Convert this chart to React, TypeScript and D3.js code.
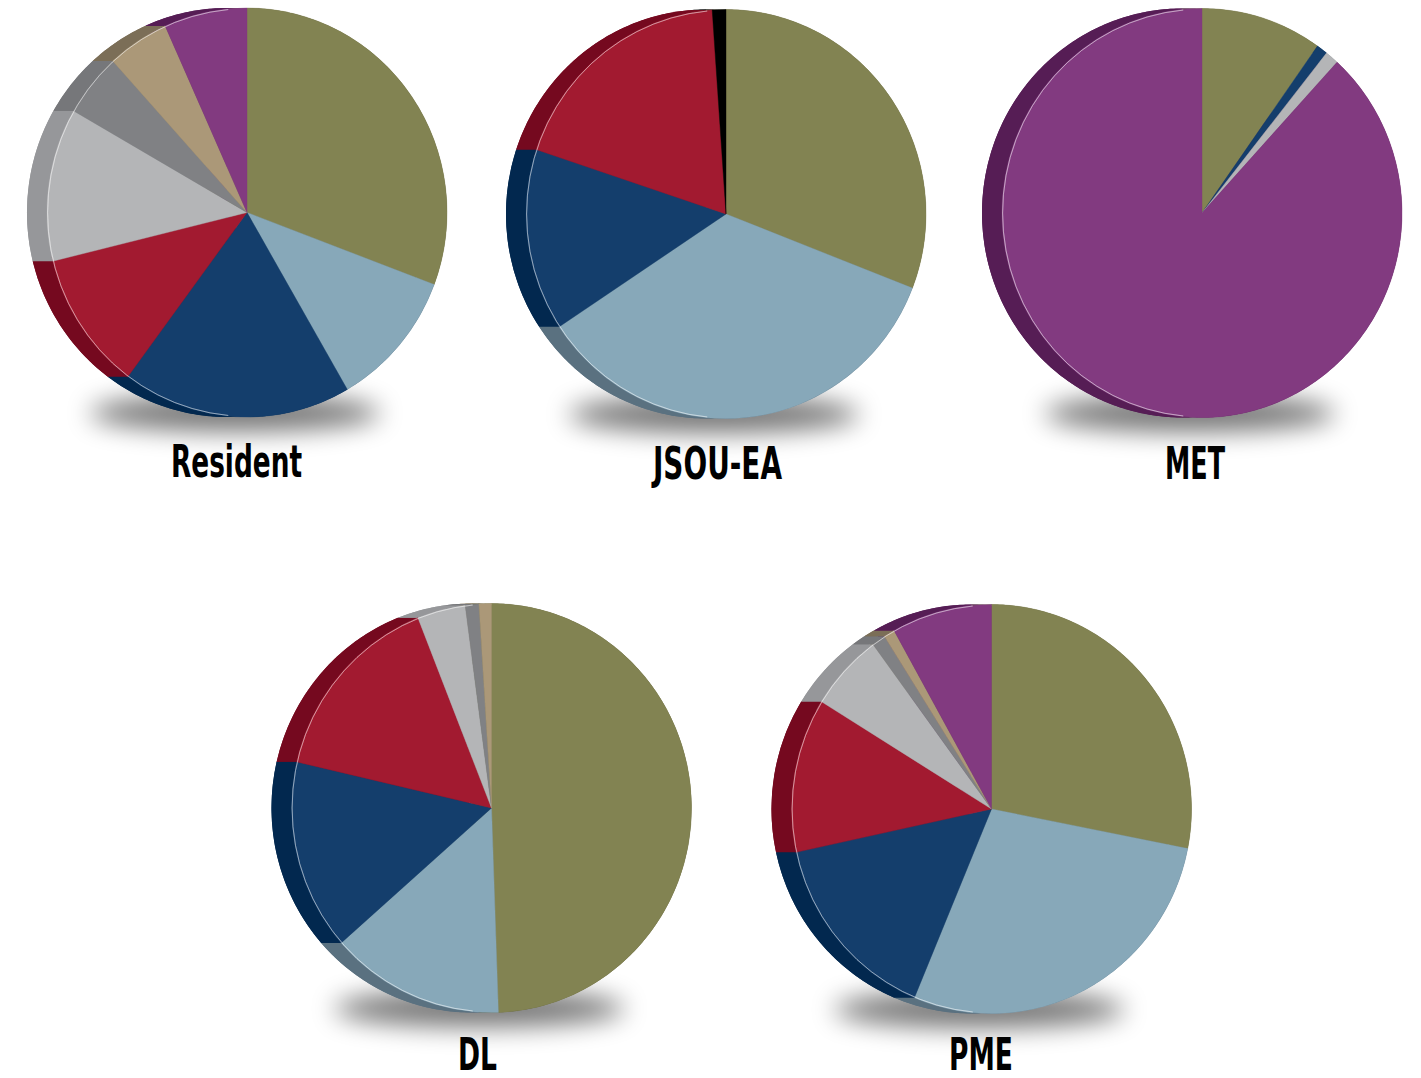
import React from "react";
import * as d3 from "d3";

// Category order (clockwise from 12 o'clock)
const categoryKeys = ["olive", "steel", "navy", "crimson", "silver", "slate", "sand", "plum", "black"];

const faceColors = ["#828352", "#87A8B9", "#143E6C", "#A21A30", "#B4B5B7", "#808184", "#AB9878", "#823A80", "#000000"];
const edgeColors = ["#5E5F37", "#5A7180", "#02284F", "#75091F", "#96979A", "#76777A", "#7B6E57", "#561D55", "#000000"];

// Series values (percent shares)
const residentValues = [30.7, 10.9, 18.5, 11.0, 12.1, 5.0, 5.0, 6.7, 0];
const jsouValues = [30.9, 34.8, 14.4, 18.8, 0, 0, 0, 0, 1.1];
const metValues = [9.8, 0, 0.9, 0, 1.1, 0, 0, 88.2, 0];
const dlValues = [49.5, 14.1, 15.1, 15.4, 3.9, 1.1, 1.0, 0, 0];
const pmeValues = [28.1, 28.2, 15.3, 12.2, 6.1, 1.1, 0.9, 8.1, 0];

const pieLabels = ["Resident", "JSOU-EA", "MET", "DL", "PME"];
const pieSeries = [residentValues, jsouValues, metValues, dlValues, pmeValues];

// layout
const W = 1421;
const H = 1078;
const R = 200;
const KY = 204.5 / 200;
const DEPTH = 20;
const centers: [number, number][] = [
  [247, 212.5],
  [726, 214],
  [1202, 213],
  [491.5, 808],
  [991.5, 809],
];
const labelPos: [number, number, number][] = [
  [236.5, 477, 131],
  [717.5, 479, 129],
  [1195, 479, 60],
  [477.5, 1070, 39],
  [981, 1070, 64],
];

const pieGen = d3.pie<number>().sort(null).value((d) => d);
const arcGen = d3.arc<d3.PieArcDatum<number>>().innerRadius(0).outerRadius(R);
const rimArc = d3.arc();
const lineGen = d3.line();

function sweepPath(a0: number, a1: number): string {
  const n = Math.max(2, Math.ceil((a1 - a0) / 0.01));
  const fwd: [number, number][] = [];
  const back: [number, number][] = [];
  for (let i = 0; i <= n; i++) {
    const a = a0 + ((a1 - a0) * i) / n;
    fwd.push([R * Math.sin(a), -R * Math.cos(a)]);
  }
  for (let i = n; i >= 0; i--) {
    const a = a0 + ((a1 - a0) * i) / n;
    back.push([R * Math.sin(a) - DEPTH, -R * Math.cos(a)]);
  }
  return (lineGen([...fwd, ...back]) || "") + "Z";
}

function Pie({ values, cx, cy }: { values: number[]; cx: number; cy: number }) {
  const arcs = pieGen(values).filter((a) => a.value > 0);
  return (
    <g>
      <ellipse
        cx={cx - 12}
        cy={cy + R * KY - 4}
        rx={145}
        ry={18}
        fill="#000"
        opacity={0.55}
        filter="url(#shadowBlur)"
      />
      <g transform={`translate(${cx},${cy}) scale(1,${KY})`}>
        <g transform={`translate(${-DEPTH},0)`}>
          {arcs.map((a) => (
            <path key={"b" + a.index} d={arcGen(a) || ""} fill={edgeColors[a.index]} />
          ))}
        </g>
        {arcs.map((a) => (
          <path key={"s" + a.index} d={sweepPath(a.startAngle, a.endAngle)} fill={edgeColors[a.index]} />
        ))}
        {arcs.map((a) => (
          <path
            key={"f" + a.index}
            d={arcGen(a) || ""}
            fill={faceColors[a.index]}
            stroke={faceColors[a.index]}
            strokeWidth={0.4}
          />
        ))}
        <path
          d={rimArc({ innerRadius: R - 0.6, outerRadius: R - 0.6, startAngle: Math.PI * 1.03, endAngle: Math.PI * 1.97 }) || ""}
          fill="none"
          stroke="rgba(255,255,255,0.4)"
          strokeWidth={0.8}
        />
      </g>
    </g>
  );
}

export default function App() {
  return (
    <svg
      width={W}
      height={H}
      viewBox={`0 0 ${W} ${H}`}
      style={{ position: "absolute", left: 0, top: 0, background: "#fff" }}
    >
      <defs>
        <filter id="shadowBlur" x="-50%" y="-300%" width="200%" height="700%">
          <feGaussianBlur stdDeviation="13" />
        </filter>
      </defs>
      <rect width={W} height={H} fill="#fff" />
      {pieSeries.map((vals, i) => (
        <Pie key={categoryKeys[0] + i} values={vals} cx={centers[i][0]} cy={centers[i][1]} />
      ))}
      {pieLabels.map((lab, i) => (
        <text
          key={lab}
          x={labelPos[i][0]}
          y={labelPos[i][1]}
          textAnchor="middle"
          fontFamily="'Liberation Sans Narrow', 'DejaVu Sans Condensed', 'Roboto', sans-serif"
          fontWeight={700}
          fontSize={44}
          textLength={labelPos[i][2]}
          lengthAdjust="spacingAndGlyphs"
          fill="#000"
        >
          {lab}
        </text>
      ))}
    </svg>
  );
}
